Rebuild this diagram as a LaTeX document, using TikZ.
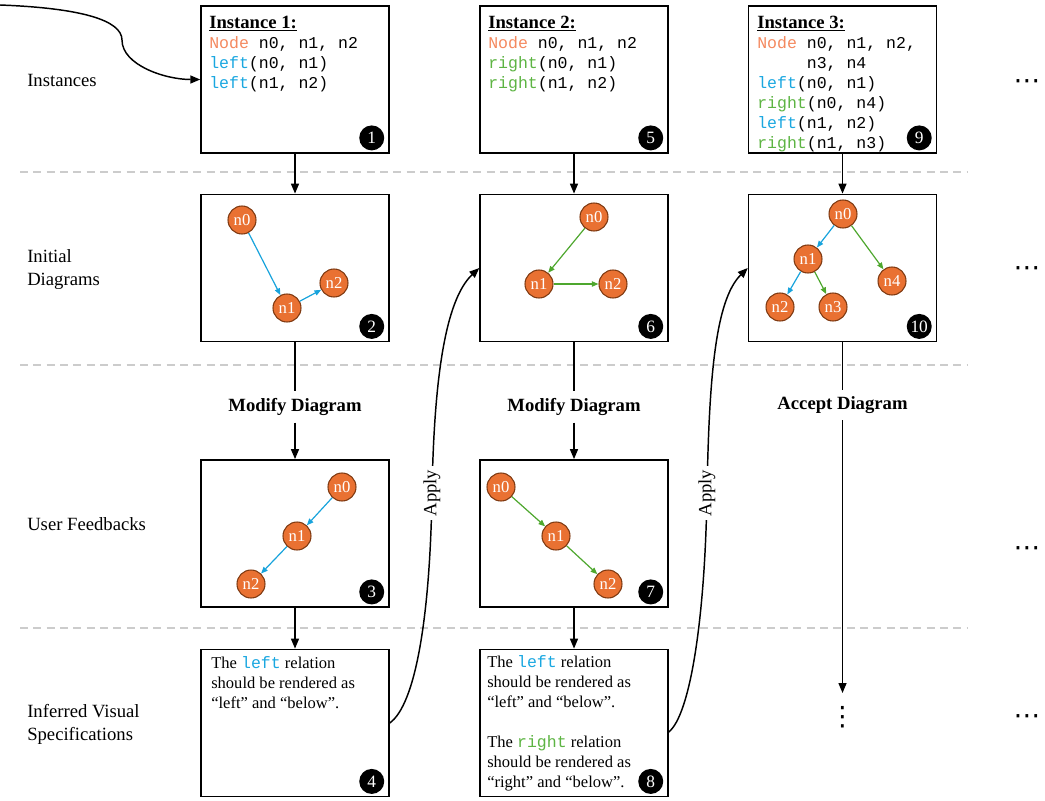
\documentclass[tikz,border=0pt]{standalone}
\usepackage{fontspec}
\setmainfont{Liberation Serif}
\setmonofont{Liberation Mono}
\newfontfamily\dejavu{DejaVu Sans}
\usetikzlibrary{arrows.meta,calc}
\definecolor{orng}{HTML}{E97132}
\definecolor{orngbd}{HTML}{7F3A12}
\definecolor{kwor}{HTML}{F4895F}
\definecolor{kwbl}{HTML}{1AA7E0}
\definecolor{kwgr}{HTML}{5DB443}
\definecolor{edbl}{HTML}{18A3DC}
\definecolor{edgr}{HTML}{4EA72E}
\definecolor{sepc}{HTML}{CCCCCC}
\newcommand\kwN{\textcolor{kwor}{Node}}
\newcommand\kwL{\textcolor{kwbl}{left}}
\newcommand\kwR{\textcolor{kwgr}{right}}
\tikzset{
 box/.style={draw, line width=1.1pt, minimum width=141pt, minimum height=110.5pt, inner sep=0pt},
 numc/.style={circle, fill=black, text=white, minimum size=18.75pt, inner sep=0pt, font=\fontsize{13}{13}\selectfont},
 gn/.style={circle, fill=orng, draw=orngbd, line width=0.8pt, minimum size=21pt, inner sep=0pt, text=white, font=\fontsize{12.5}{12.5}\selectfont},
 code/.style={anchor=base west, inner sep=0pt, font=\ttfamily\fontsize{12.4}{15}\selectfont},
 ttl/.style={anchor=base west, inner sep=0pt, font=\bfseries\fontsize{14}{16}\selectfont},
 txt/.style={anchor=base west, inner sep=0pt, font=\fontsize{12.4}{15}\selectfont},
 rowlbl/.style={anchor=west, inner sep=0pt, align=left, font=\fontsize{14}{17.25}\selectfont},
 flow/.style={line width=1.1pt, -{Triangle[length=7.5pt,width=6pt]}},
 plainln/.style={line width=1.1pt},
 ebl/.style={draw=edbl, line width=0.9pt, -{Triangle[length=5pt,width=4pt]}},
 egr/.style={draw=edgr, line width=0.9pt, -{Triangle[length=5pt,width=4pt]}},
 sepline/.style={draw=sepc, line width=1.1pt, dash pattern=on 6pt off 4pt},
 act/.style={font=\bfseries\fontsize{14}{16}\selectfont, inner xsep=2pt, inner ysep=5pt},
 applbl/.style={rotate=90, fill=white, inner xsep=3pt, inner ysep=1pt, font=\fontsize{14}{16}\selectfont},
 dotsn/.style={font=\dejavu\fontsize{20}{20}\selectfont, inner sep=0pt}
}
\begin{document}
\begin{tikzpicture}[x=0.75pt,y=-0.75pt]
\useasboundingbox (0,0) rectangle (1045,800);
% separators
\draw[sepline] (20,172) -- (967,172);
\draw[sepline] (20,365) -- (967,365);
\draw[sepline] (20,628) -- (967,628);
% row labels
\node[rowlbl] (l1) at (27,80) {Instances};
\node[rowlbl] (l2) at (27,270) {Initial\\Diagrams};
\node[rowlbl] (l3) at (27,524) {User Feedbacks};
\node[rowlbl] (l4) at (27,724) {Inferred Visual\\Specifications};
% boxes
\node[box] (b1) at (295,79.5) {};
\node[box] (b5) at (574,79.5) {};
\node[box] (b9) at (842.5,79.5) {};
\node[box] (b2) at (295,268) {};
\node[box] (b6) at (574,268) {};
\node[box] (b10) at (842.5,268) {};
\node[box] (b3) at (295,533.5) {};
\node[box] (b7) at (574,533.5) {};
\node[box] (b4) at (295,723) {};
\node[box] (b8) at (574,723) {};
% number circles
\foreach \b/\n in {b1/1,b2/2,b3/3,b4/4,b5/5,b6/6,b7/7,b8/8,b9/9,b10/10}
  \node[numc] (c\n) at ($(\b.south east)+(-18,-16)$) {\n};
% instance texts
\node[ttl] (t1) at (209,28) {\underline{Instance 1:}};
\node[code] (t1a) at (209,48) {\kwN{} n0, n1, n2};
\node[code] (t1b) at (209,68) {\kwL(n0, n1)};
\node[code] (t1c) at (209,88) {\kwL(n1, n2)};
\node[ttl] (t5) at (488,28) {\underline{Instance 2:}};
\node[code] (t5a) at (488,48) {\kwN{} n0, n1, n2};
\node[code] (t5b) at (488,68) {\kwR(n0, n1)};
\node[code] (t5c) at (488,88) {\kwR(n1, n2)};
\node[ttl] (t9) at (757,28) {\underline{Instance 3:}};
\node[code] (t9a) at (757,48) {\kwN{} n0, n1, n2,};
\node[code] (t9b) at (757,68) {\hphantom{Node\ }n3, n4};
\node[code] (t9c) at (757,88) {\kwL(n0, n1)};
\node[code] (t9d) at (757,108) {\kwR(n0, n4)};
\node[code] (t9e) at (757,128) {\kwL(n1, n2)};
\node[code] (t9f) at (757,148) {\kwR(n1, n3)};
% diagram 2
\node[gn] (a0) at (242,220) {n0};
\node[gn] (a1) at (287,308) {n1};
\node[gn] (a2) at (334,283) {n2};
\draw[ebl] (a0) -- (a1);
\draw[ebl] (a1) -- (a2);
% diagram 6
\node[gn] (d0) at (594,217) {n0};
\node[gn] (d1) at (539,284) {n1};
\node[gn] (d2) at (613,284) {n2};
\draw[egr] (d0) -- (d1);
\draw[egr] (d1) -- (d2);
% diagram 10
\node[gn] (e0) at (843,214) {n0};
\node[gn] (e1) at (808,259) {n1};
\node[gn] (e2) at (780,307) {n2};
\node[gn] (e3) at (833,307) {n3};
\node[gn] (e4) at (892,281) {n4};
\draw[ebl] (e0) -- (e1);
\draw[egr] (e0) -- (e4);
\draw[ebl] (e1) -- (e2);
\draw[egr] (e1) -- (e3);
% diagram 3
\node[gn] (f0) at (342,487) {n0};
\node[gn] (f1) at (297,536) {n1};
\node[gn] (f2) at (251,584) {n2};
\draw[ebl] (f0) -- (f1);
\draw[ebl] (f1) -- (f2);
% diagram 7
\node[gn] (g0) at (501,487) {n0};
\node[gn] (g1) at (556,536) {n1};
\node[gn] (g2) at (608,584) {n2};
\draw[egr] (g0) -- (g1);
\draw[egr] (g1) -- (g2);
% inferred texts
\node[txt] (s4a) at (211,668) {The \texttt{\kwL} relation};
\node[txt] (s4b) at (211,688) {should be rendered as};
\node[txt] (s4c) at (211,708) {``left'' and ``below''.};
\node[txt] (s8a) at (487,667) {The \texttt{\kwL} relation};
\node[txt] (s8b) at (487,687) {should be rendered as};
\node[txt] (s8c) at (487,707) {``left'' and ``below''.};
\node[txt] (s8d) at (487,747) {The \texttt{\kwR} relation};
\node[txt] (s8e) at (487,767) {should be rendered as};
\node[txt] (s8f) at (487,787) {``right'' and ``below''.};
% action labels
\node[act] (m1) at (295,407) {Modify Diagram};
\node[act] (m2) at (574,407) {Modify Diagram};
\node[act] (m3) at (842.5,405) {Accept Diagram};
\coordinate (endacc) at (842.5,693);
\node[dotsn] (vd) at (842.5,717) {⋮};
% vertical flow
\draw[flow] (b1) -- (b2);
\draw[flow] (b5) -- (b6);
\draw[flow] (b9) -- (b10);
\draw[plainln] (b2) -- (m1);
\draw[flow] (m1) -- (b3);
\draw[plainln] (b6) -- (m2);
\draw[flow] (m2) -- (b7);
\draw[plainln] (b10) -- (m3);
\draw[flow] (m3) -- (endacc);
\draw[flow] (b3) -- (b4);
\draw[flow] (b7) -- (b8);
% top entry curve
\coordinate (start) at (0,5);
\draw[flow] (start) .. controls (80,8) and (122,20) .. (122,40) .. controls (122,65) and (165,79.5) .. (b1.west);
% apply curves
\draw[flow] (b4.east) .. controls (415,705) and (430,620) .. (432,493) node[applbl] (ap1) {Apply} .. controls (434,380) and (445,300) .. (b6.west);
\draw[flow] ($(b8.east)+(0,9)$) .. controls (690,715) and (705,620) .. (707,493) node[applbl] (ap2) {Apply} .. controls (709,380) and (715,300) .. (b10.west);
% ellipses
\node[dotsn] (x1) at (1027,85) {⋯};
\node[dotsn] (x2) at (1027,272) {⋯};
\node[dotsn] (x3) at (1027,552) {⋯};
\node[dotsn] (x4) at (1027,720) {⋯};
\end{tikzpicture}
\end{document}
